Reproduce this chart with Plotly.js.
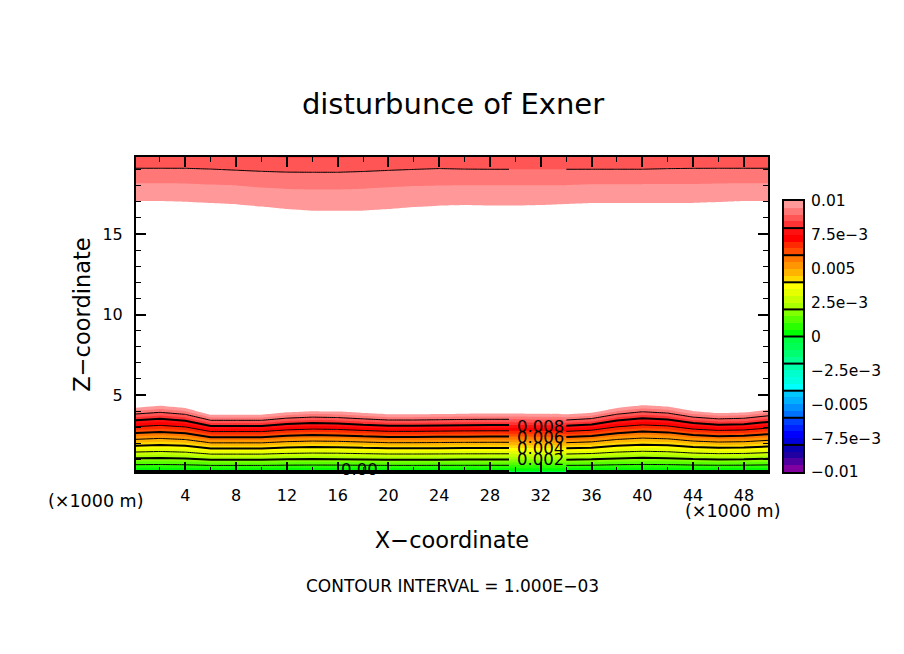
<!DOCTYPE html>
<html><head><meta charset="utf-8">
<script src="https://cdn.plot.ly/plotly-3.0.1.min.js"></script>
<style>html,body{margin:0;padding:0;background:#fff}</style></head>
<body><div id="chart" style="width:904px;height:654px"></div>
<script>
// x stations (x1000 m)
const xStations = [0,2,4,6,8,10,12,14,16,18,20,22,24,26,28,30,32,34,36,38,40,42,44,46,48,50];
// z-coordinate rows
const zRows = [0.2,2,4,5.2,10,15,16,17,18,19,19.8];
// disturbance values (unit 1e-3)
const row_0_2 = [-0.204,-0.198,-0.205,-0.229,-0.229,-0.229,-0.219,-0.215,-0.217,-0.222,-0.227,-0.227,-0.226,-0.225,-0.224,-0.224,-0.225,-0.227,-0.221,-0.204,-0.196,-0.2,-0.215,-0.222,-0.22,-0.209];
const row_2 = [4.377,4.247,4.399,4.914,4.914,4.914,4.712,4.624,4.661,4.778,4.886,4.886,4.859,4.831,4.818,4.818,4.845,4.886,4.751,4.388,4.205,4.3,4.624,4.778,4.725,4.503];
const row_4 = [9.466,9.185,9.514,10.629,10.629,10.629,10.192,10.0,10.081,10.333,10.568,10.568,10.508,10.449,10.42,10.42,10.479,10.568,10.276,9.49,9.095,9.3,10.0,10.333,10.22,9.738];
const row_5_2 = [12.52,12.15,12.58,14.06,14.06,14.06,13.48,13.23,13.33,13.67,13.98,13.98,13.9,13.82,13.78,13.78,13.86,13.98,13.59,12.55,12.03,12.3,13.23,13.67,13.52,12.88];
const row_10 = [14,14,14,14,14,14,14,14,14,14,14,14,14,14,14,14,14,14,14,14,14,14,14,14,14,14];
const row_15 = [11,11,11,11,11,11,11,11,11,11,11,11,11,11,11,11,11,11,11,11,11,11,11,11,11,11];
const row_16 = [10.46,10.46,10.43,10.4,10.36,10.29,10.21,10.16,10.16,10.16,10.2,10.26,10.3,10.32,10.3,10.3,10.32,10.37,10.4,10.39,10.39,10.39,10.39,10.41,10.46,10.46];
const row_17 = [10.02,10.02,10.0,9.966,9.936,9.875,9.824,9.793,9.793,9.804,9.836,9.877,9.905,9.919,9.909,9.906,9.919,9.944,9.97,9.97,9.97,9.97,9.97,9.992,10.02,10.02];
const row_18 = [9.58,9.58,9.573,9.534,9.509,9.45,9.416,9.407,9.407,9.427,9.461,9.49,9.508,9.516,9.516,9.516,9.516,9.517,9.543,9.55,9.55,9.55,9.554,9.572,9.58,9.58];
const row_19 = [9.045,9.045,9.044,9.016,8.979,8.944,8.921,8.917,8.917,8.942,8.976,9.005,9.034,9.015,9.01,9.01,9.01,9.01,9.011,9.011,9.011,9.032,9.042,9.044,9.044,9.045];
const row_19_8 = [8.6,8.6,8.6,8.58,8.54,8.5,8.47,8.47,8.47,8.49,8.53,8.57,8.6,8.58,8.57,8.57,8.57,8.57,8.57,8.57,8.57,8.59,8.6,8.6,8.6,8.6];
// contour-label gap in the lines: stations left and right of the labels
const lineLeftX = [0,2,4,6,8,10,12,14,16,18,20,22,24,26,28,29.5];
const lineRightX = [34,36,38,40,42,44,46,48,50];
// colour levels, top to bottom of the colour bar
const levelColors = ['#ff9999','#ff7777','#ff5555','#ff3333','#ff1111','#ff0000','#ff2a00','#ff4c00',
 '#ff7700','#ff9500','#ffb400','#ffd900','#ffff00','#e6ff00','#c8ff00','#a9ff00',
 '#7fff00','#55ff00','#2aff00','#00ff00','#00ff40','#00ff55','#00ff70','#00ff90',
 '#00ffaa','#00ffcc','#00ffe0','#00ffff','#00c8ff','#00b0ff','#0090ff','#0070ff',
 '#0040ff','#0020ff','#0000ff','#0000dd','#0a00b0','#2000a0','#5000a0','#8000a0'];
const barTickVals = [0.01,0.0075,0.005,0.0025,0,-0.0025,-0.005,-0.0075,-0.01];
const barTickText = ['0.01','7.5e\u22123','0.005','2.5e\u22123','0','\u22122.5e\u22123','\u22120.005','\u22127.5e\u22123','\u22120.01'];
const barSeparators = [0.008,0.006,0.004,0.002,0,-0.002,-0.004,-0.006,-0.008];
const xTicks = [4,8,12,16,20,24,28,32,36,40,44,48];
const yTicks = [5,10,15];
const lineLabels = [['0.008',32.0,3.05],['0.006',32.0,2.37],['0.004',32.0,1.68],['0.002',32.0,1.0],['0.00',17.7,0.36]];

const FONT = 'DejaVu Sans';
const zField = [row_0_2,row_2,row_4,row_5_2,row_10,row_15,row_16,row_17,row_18,row_19,row_19_8]
  .map(r => r.map(v => v/1000));
const upColors = levelColors.slice().reverse();
const fillScale = upColors.map((c,i) => [i/(upColors.length-1), c]);
const barScale = [];
upColors.forEach((c,i) => { barScale.push([i/upColors.length,c]); barScale.push([(i+1)/upColors.length,c]); });
const barEdges = upColors.map((c,i) => -0.01 + i*0.0005).concat([0.01]);
const barMids = upColors.map((c,i) => -0.00975 + i*0.0005);

function lineTrace(x, zz, start, end, width){
  return {type:'contour', x:x, y:zRows, z:zz, showscale:false, hoverinfo:'skip', autocontour:false,
    contours:{coloring:'none', start:start, end:end, size:0.002, showlabels:false},
    line:{color:'#000', width:width, smoothing:0}, xaxis:'x', yaxis:'y'};
}
const nL = lineLeftX.length, nR = lineRightX.length, nS = xStations.length;
const zLeft = zField.map(r => r.slice(0,nL));
const zRight = zField.map(r => r.slice(nS-nR));

const traces = [
 {type:'contour', x:xStations, y:zRows, z:zField, showscale:false, hoverinfo:'skip', autocontour:false,
  colorscale:fillScale, contours:{coloring:'fill', showlines:false, start:-0.0095, end:0.0095, size:0.0005},
  line:{width:0, smoothing:0}, xaxis:'x', yaxis:'y'},
 {type:'contour', x:xStations, y:zRows, z:zField, showscale:false, hoverinfo:'skip',
  contours:{type:'constraint', operation:'<', value:0.01, showlines:false},
  fillcolor:'#ffffff', line:{width:0, smoothing:0}, xaxis:'x', yaxis:'y'},
 lineTrace(lineLeftX, zLeft, 0.001, 0.009, 1),
 lineTrace(lineRightX, zRight, 0.001, 0.009, 1),
 lineTrace(lineLeftX, zLeft, 0, 0.008, 2),
 lineTrace(lineRightX, zRight, 0, 0.008, 2),
 {type:'heatmap', x:[0,1], y:barEdges, z:barMids.map(v=>[v]), zmin:-0.01, zmax:0.01, colorscale:barScale,
  showscale:false, hoverinfo:'skip', xaxis:'x2', yaxis:'y2'}
];

const axisFont = {family:FONT, size:16, color:'#000'};
const barFont = {family:FONT, size:15.5, color:'#000'};
const cornerFont = {family:FONT, size:17.5, color:'#000'};
const layout = {
  width:904, height:654, autosize:false, paper_bgcolor:'#fff', plot_bgcolor:'#fff', showlegend:false,
  margin:{l:136, r:101, t:157, b:182, pad:0},
  title:{text:'disturbunce of Exner', x:453/904, xanchor:'center', y:1-104/654, yanchor:'middle', font:{family:FONT,size:29,color:'#000'}},
  xaxis:{domain:[0,632/667], range:[0.11,49.9], tickmode:'array', tickvals:xTicks, ticks:'inside', ticklen:10, tickwidth:2,
    minor:{dtick:2, tick0:0, ticks:'inside', ticklen:5, tickwidth:1, tickcolor:'#000', showgrid:false},
    tickcolor:'#000', showline:true, linecolor:'#000', linewidth:2, mirror:'ticks', showgrid:false, zeroline:false,
    tickfont:axisFont, ticklabelstandoff:8, anchor:'y',
    title:{text:'X\u2212coordinate', font:{family:FONT,size:22.5,color:'#000'}, standoff:28}},
  yaxis:{domain:[0,1], range:[0.22,19.78], tickmode:'array', tickvals:yTicks, ticks:'inside', ticklen:10, tickwidth:2,
    minor:{dtick:1, tick0:0, ticks:'inside', ticklen:5, tickwidth:1, tickcolor:'#000', showgrid:false},
    tickcolor:'#000', showline:true, linecolor:'#000', linewidth:2, mirror:'ticks', showgrid:false, zeroline:false,
    tickfont:axisFont, ticklabelstandoff:8, anchor:'x',
    title:{text:'Z\u2212coordinate', font:{family:FONT,size:22.5,color:'#000'}, standoff:6}},
  xaxis2:{domain:[648/667,1], range:[0,1], showticklabels:false, ticks:'', showgrid:false, zeroline:false,
    showline:true, linecolor:'#000', linewidth:2, mirror:true, anchor:'y2', fixedrange:true},
  yaxis2:{domain:[0,271/315], range:[-0.01,0.01], side:'right', anchor:'x2', tickmode:'array', tickvals:barTickVals, ticktext:barTickText,
    ticks:'', showgrid:false, zeroline:false, showline:true, linecolor:'#000', linewidth:2, mirror:true,
    tickfont:barFont, ticklabelstandoff:3, fixedrange:true},
  shapes: barSeparators.map(v => ({type:'line', xref:'x2', yref:'y2', x0:0, x1:1, y0:v, y1:v, line:{color:'#000',width:2}})),
  annotations: lineLabels.map(l => ({text:l[0], x:l[1], y:l[2], xref:'x', yref:'y', showarrow:false,
      font:{family:FONT,size:16.5,color:'#000'}, xanchor:'center', yanchor:'middle'})).concat([
    {text:'(\u00d71000 m)', xref:'paper', yref:'paper', x:(95.5-136)/667, y:-(501-472)/315, xanchor:'center', yanchor:'middle', showarrow:false, font:cornerFont},
    {text:'(\u00d71000 m)', xref:'paper', yref:'paper', x:(732.5-136)/667, y:-(511-472)/315, xanchor:'center', yanchor:'middle', showarrow:false, font:cornerFont},
    {text:'CONTOUR INTERVAL = 1.000E\u221203', xref:'paper', yref:'paper', x:(452-136)/667, y:-(586-472)/315, xanchor:'center', yanchor:'middle', showarrow:false, font:{family:FONT,size:17,color:'#000'}}
  ])
};
Plotly.newPlot('chart', traces, layout, {displayModeBar:false, staticPlot:true});
</script></body></html>
